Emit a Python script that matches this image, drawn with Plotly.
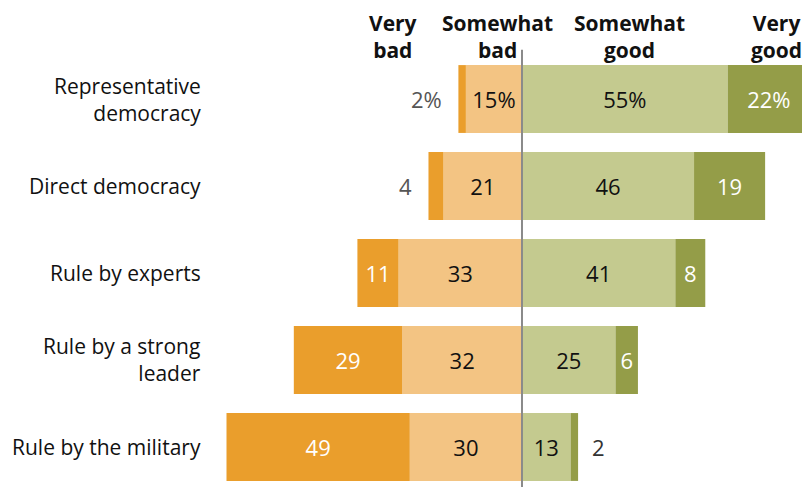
import plotly.graph_objects as go

categories = ["Representative<br>democracy", "Direct democracy", "Rule by experts",
              "Rule by a strong<br>leader", "Rule by the military"]
very_bad = [2, 4, 11, 29, 49]
somewhat_bad = [15, 21, 33, 32, 30]
somewhat_good = [55, 46, 41, 25, 13]
very_good = [22, 19, 8, 6, 2]
headers = ["Very<br>bad", "Somewhat<br>bad", "Somewhat<br>good", "Very<br>good"]

FONT = "Open Sans"
C_VB, C_SB, C_SG, C_VG = "#EA9E2C", "#F3C483", "#C4CA8F", "#949D48"

ypos = list(range(len(categories)))
small = 5  # segments below this get outside labels
NUM = 22

def lab(vals):
    out = []
    for i, v in enumerate(vals):
        if v < small:
            out.append("")
        else:
            out.append(f"{v}%" if i == 0 else f"{v}")
    return out

fig = go.Figure()
common = dict(orientation="h", y=ypos, width=0.78, textposition="inside",
              insidetextanchor="middle", textangle=0, constraintext="none",
              marker_line_width=0, hoverinfo="skip", cliponaxis=False)
fig.add_trace(go.Bar(x=[-v for v in somewhat_bad], text=lab(somewhat_bad), marker_color=C_SB,
                     insidetextfont=dict(family=FONT, size=NUM, color="#111"), **common))
fig.add_trace(go.Bar(x=[-v for v in very_bad], text=lab(very_bad), marker_color=C_VB,
                     insidetextfont=dict(family=FONT, size=NUM, color="white"), **common))
fig.add_trace(go.Bar(x=somewhat_good, text=lab(somewhat_good), marker_color=C_SG,
                     insidetextfont=dict(family=FONT, size=NUM, color="#111"), **common))
fig.add_trace(go.Bar(x=very_good, text=lab(very_good), marker_color=C_VG,
                     insidetextfont=dict(family=FONT, size=NUM, color="white"), **common))

ann = []
for i, c in enumerate(categories):
    ann.append(dict(xref="paper", yref="y", x=0, y=i, xshift=-22, text=c, showarrow=False,
                    xanchor="right", yanchor="middle", align="right",
                    font=dict(family=FONT, size=21, color="#111")))
    if very_bad[i] < small:
        t = f"{very_bad[i]}%" if i == 0 else f"{very_bad[i]}"
        ann.append(dict(xref="x", yref="y", x=-(very_bad[i] + somewhat_bad[i]), y=i, xshift=-14,
                        text=t, showarrow=False, xanchor="right", yanchor="middle",
                        font=dict(family=FONT, size=NUM, color="#555")))
    if very_good[i] < small:
        t = f"{very_good[i]}%" if i == 0 else f"{very_good[i]}"
        ann.append(dict(xref="x", yref="y", x=very_good[i] + somewhat_good[i], y=i, xshift=12,
                        text=t, showarrow=False, xanchor="left", yanchor="middle",
                        font=dict(family=FONT, size=NUM, color="#333")))

hx = [0.287, 0.465, 0.692, 0.942]
for h, x in zip(headers, hx):
    ann.append(dict(xref="paper", yref="paper", x=x, y=1.1088, text=f"<b>{h}</b>", showarrow=False,
                    xanchor="center", yanchor="top", align="center", borderpad=0,
                    font=dict(family=FONT, size=21, color="#111")))

fig.update_layout(
    width=802, height=479, barmode="relative", showlegend=False,
    margin=dict(l=217, r=0, t=47, b=0),
    plot_bgcolor="white", paper_bgcolor="white",
    xaxis=dict(range=[-79.4, 77.0], visible=False, fixedrange=True),
    yaxis=dict(range=[4.46, -0.506], visible=False, fixedrange=True),
    annotations=ann,
    shapes=[dict(type="line", xref="x", yref="paper", x0=0, x1=0, y0=0, y1=1.012,
                 line=dict(color="#8a8a8a", width=2), layer="above")],
)
fig.write_html("out.html")
